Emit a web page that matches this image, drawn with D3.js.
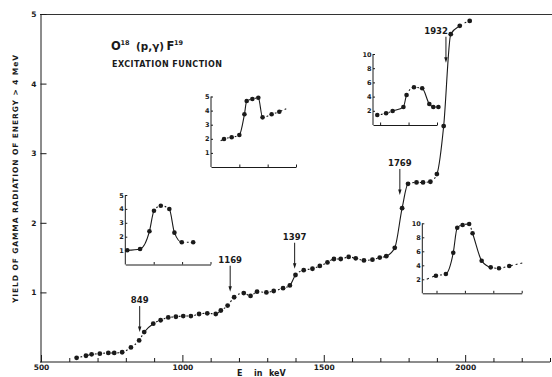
<!DOCTYPE html>
<html>
<head>
<meta charset="utf-8">
<script src="https://cdn.jsdelivr.net/npm/d3@7"></script>
<style>
  body { margin: 0; background: #fff; }
  svg { display: block; }
  text { font-family: "DejaVu Sans", sans-serif; fill: #1a1a1a; }
</style>
</head>
<body>
<script>
// main excitation curve
var energy = [626, 659, 679, 708, 738, 759, 787, 818, 847, 865, 897, 923, 950, 977, 1003, 1030, 1059,
  1088, 1118, 1136, 1160, 1183, 1217, 1241, 1264, 1297, 1323, 1356, 1380, 1400, 1429, 1460, 1486,
  1513, 1536, 1560, 1588, 1613, 1642, 1672, 1698, 1721, 1751, 1777, 1798, 1828, 1851, 1877, 1900,
  1924, 1949, 1981, 2016];
var yieldVals = [0.06, 0.09, 0.11, 0.12, 0.13, 0.13, 0.14, 0.21, 0.31, 0.43, 0.55, 0.60, 0.64, 0.65, 0.66, 0.66, 0.69,
  0.70, 0.69, 0.74, 0.81, 0.93, 0.99, 0.95, 1.01, 1.00, 1.02, 1.06, 1.10, 1.25, 1.32, 1.34, 1.38,
  1.43, 1.48, 1.48, 1.51, 1.49, 1.46, 1.47, 1.50, 1.52, 1.64, 2.21, 2.56, 2.58, 2.58, 2.59, 2.70,
  3.39, 4.71, 4.83, 4.90];

// resonance markers
var arrowE = [849, 1169, 1397, 1769, 1932];
var arrowTip = [0.43, 1.01, 1.34, 2.40, 4.30];

// axis ticks
var majorTicks = [500, 1000, 1500, 2000];
var minorTicks = [600, 700, 800, 900, 1100, 1200, 1300, 1400, 1600, 1700, 1800, 1900, 2100, 2200, 2300];
var yTicks = [1, 2, 3, 4, 5];

// insets (x in arbitrary units of one tick spacing)
var insetAx = [0.46, 0.73, 1.00, 1.18, 1.26, 1.46, 1.67, 1.82, 2.14, 2.41];
var insetAy = [1.99, 2.11, 2.27, 3.74, 4.68, 4.82, 4.91, 3.52, 3.74, 3.92];
var insetAlead = [0.29, 1.79];
var insetAtail = [2.69, 4.16];

var insetBx = [0.07, 0.52, 0.85, 1.01, 1.25, 1.55, 1.73, 1.99, 2.39];
var insetBy = [1.02, 1.12, 2.39, 3.87, 4.23, 3.99, 2.29, 1.60, 1.60];

var insetCx = [0.15, 0.46, 0.69, 1.07, 1.18, 1.44, 1.73, 1.98, 2.12, 2.30];
var insetCy = [1.41, 1.65, 1.97, 2.54, 4.23, 5.31, 5.17, 2.96, 2.54, 2.54];

var insetDx = [0.48, 0.83, 1.09, 1.23, 1.42, 1.65, 1.77, 2.09, 2.41, 2.70, 3.06];
var insetDy = [2.51, 2.76, 5.80, 9.37, 9.76, 9.90, 8.57, 4.66, 3.71, 3.57, 3.90];
var insetDlead = [0.10, 1.90];
var insetDtail = [3.56, 4.37];

var smallTicks = [1, 2, 3, 4, 5];
var bigTicks = [2, 4, 6, 8, 10];

var width = 552, height = 377;
var ink = "#1a1a1a";

var svg = d3.select("body").append("svg")
  .attr("width", width)
  .attr("height", height);

svg.append("rect").attr("width", width).attr("height", height).attr("fill", "#fff");

var x = d3.scaleLinear().domain([500, 2300]).range([41, 550]);
var y = d3.scaleLinear().domain([0, 5]).range([362, 14]);

// builds a dash pattern: short dashes between close points, solid on steep jumps
function dashPath(path, pxs, leadSegs) {
  var node = path.node();
  var total = node.getTotalLength();
  var lens = pxs.map(function (px) {
    var lo = 0, hi = total;
    for (var k = 0; k < 40; k++) {
      var mid = (lo + hi) / 2;
      if (node.getPointAtLength(mid).x < px) lo = mid; else hi = mid;
    }
    return (lo + hi) / 2;
  });
  var arr = [];
  for (var i = 0; i < lens.length - 1; i++) {
    var s = lens[i + 1] - lens[i];
    var isLead = leadSegs.indexOf(i) >= 0;
    if (s > 11.5 && !isLead) {
      arr.push(s, 0);
    } else {
      var n = Math.max(1, Math.round(s / (isLead ? 5 : 8)));
      var p = s / n;
      var d = Math.min(isLead ? 2.6 : 1.8, p * 0.4);
      for (var j = 0; j < n; j++) {
        arr.push(0, (p - d) / 2, d, (p - d) / 2);
      }
    }
  }
  path.attr("stroke-dasharray", arr.join(","));
}

function drawCurve(g, pts, sx, sy, leadSegs, dotR, dotMask) {
  var line = d3.line()
    .x(function (d) { return sx(d[0]); })
    .y(function (d) { return sy(d[1]); })
    .curve(d3.curveMonotoneX);
  var path = g.append("path")
    .datum(pts)
    .attr("d", line)
    .attr("fill", "none")
    .attr("stroke", ink)
    .attr("stroke-width", 1.1);
  dashPath(path, pts.map(function (d) { return sx(d[0]); }), leadSegs);
  g.selectAll("circle.dot")
    .data(pts.filter(function (d, i) { return dotMask[i]; }))
    .enter()
    .append("circle")
    .attr("class", "dot")
    .attr("cx", function (d) { return sx(d[0]); })
    .attr("cy", function (d) { return sy(d[1]); })
    .attr("r", dotR)
    .attr("fill", ink);
}

// frame
svg.append("line").attr("x1", 40).attr("x2", width).attr("y1", 14.5).attr("y2", 14.5)
  .attr("stroke", "#333").attr("stroke-width", 1);

// x axis
var xMajor = d3.axisBottom(x).tickValues(majorTicks).tickSizeInner(-7).tickSizeOuter(0).tickPadding(3)
  .tickFormat(d3.format("d"));
var gx = svg.append("g").attr("transform", "translate(0,362)").call(xMajor);
var xMinor = d3.axisBottom(x).tickValues(minorTicks).tickSizeInner(-4).tickSizeOuter(0).tickFormat("");
var gx2 = svg.append("g").attr("transform", "translate(0,362)").call(xMinor);
gx2.select(".domain").remove();
gx.select(".domain").attr("d", "M40,0H550");

// y axis
var yAxis = d3.axisLeft(y).tickValues(yTicks).tickSizeInner(-6).tickSizeOuter(0).tickPadding(4)
  .tickFormat(d3.format("d"));
var gy = svg.append("g").attr("transform", "translate(40.5,0)").call(yAxis);

[gx, gx2, gy].forEach(function (g) {
  g.selectAll("path, line").attr("stroke", ink).attr("stroke-width", 1);
  g.selectAll("text").attr("font-size", 7.5).attr("font-weight", "bold").attr("fill", ink)
    .style("font-family", "DejaVu Sans");
});

// axis titles
svg.append("text")
  .attr("transform", "translate(18,179) rotate(-90)")
  .attr("text-anchor", "middle")
  .attr("font-size", 7.5)
  .attr("font-weight", "bold")
  .attr("textLength", 248)
  .attr("lengthAdjust", "spacing")
  .text("YIELD OF GAMMA RADIATION OF ENERGY > 4 MeV");

var xt = svg.append("text").attr("y", 376).attr("font-size", 8).attr("font-weight", "bold");
xt.append("tspan").attr("x", 237).text("E");
xt.append("tspan").attr("x", 254).text("in");
xt.append("tspan").attr("x", 269).text("keV");

// title
svg.append("text").attr("x", 111).attr("y", 50).attr("font-size", 11.5).attr("font-weight", "bold").text("O");
svg.append("text").attr("x", 120.5).attr("y", 45).attr("font-size", 6.5).attr("font-weight", "bold").text("18");
svg.append("text").attr("x", 136).attr("y", 50).attr("font-size", 11).attr("font-weight", "bold")
  .attr("textLength", 28).attr("lengthAdjust", "spacingAndGlyphs").text("(p,γ)");
svg.append("text").attr("x", 166.5).attr("y", 50).attr("font-size", 11.5).attr("font-weight", "bold").text("F");
svg.append("text").attr("x", 174).attr("y", 45).attr("font-size", 6.5).attr("font-weight", "bold").text("19");
svg.append("text").attr("x", 112).attr("y", 67).attr("font-size", 8).attr("font-weight", "bold")
  .attr("textLength", 110).attr("lengthAdjust", "spacing").text("EXCITATION FUNCTION");

// main curve
var mainPts = energy.map(function (e, i) { return [e, yieldVals[i]]; });
drawCurve(svg.append("g"), mainPts, x, y, [], 2.4, mainPts.map(function () { return true; }));

// arrows
arrowE.forEach(function (e, i) {
  var ax = x(e), tip = y(arrowTip[i]), top = tip - 26;
  svg.append("line").attr("x1", ax).attr("x2", ax).attr("y1", top).attr("y2", tip - 3)
    .attr("stroke", ink).attr("stroke-width", 1);
  svg.append("path")
    .attr("d", "M" + (ax - 1.7) + "," + (tip - 5.5) + "L" + (ax + 1.7) + "," + (tip - 5.5) + "L" + ax + "," + tip + "Z")
    .attr("fill", ink);
  var last = i === arrowE.length - 1;
  svg.append("text")
    .attr("x", last ? ax + 2 : ax)
    .attr("y", top - 3)
    .attr("text-anchor", last ? "end" : "middle")
    .attr("font-size", 8.5)
    .attr("font-weight", "bold")
    .text(String(e));
});

// insets
function drawInset(cfg) {
  var g = svg.append("g");
  var sx = d3.scaleLinear().domain(cfg.xd).range(cfg.xr);
  var sy = d3.scaleLinear().domain(cfg.yd).range(cfg.yr);
  var ax = d3.axisBottom(sx).tickValues(cfg.xt).tickSizeInner(-2.5).tickSizeOuter(0).tickFormat("");
  var gax = g.append("g").attr("transform", "translate(0," + cfg.yr[0] + ")").call(ax);
  var ay = d3.axisLeft(sy).tickValues(cfg.yt).tickSizeInner(-2).tickSizeOuter(0).tickPadding(1.5)
    .tickFormat(d3.format("d"));
  var gay = g.append("g").attr("transform", "translate(" + cfg.xr[0] + ",0)").call(ay);
  gay.select(".domain").attr("d", "M0," + cfg.yr[0] + "V" + sy(cfg.yt[cfg.yt.length - 1]));
  [gax, gay].forEach(function (a) {
    a.selectAll("path, line").attr("stroke", ink).attr("stroke-width", 1);
    a.selectAll("text").attr("font-size", 6.5).attr("font-weight", "bold").attr("fill", ink)
      .style("font-family", "DejaVu Sans");
  });
  var pts = cfg.px.map(function (v, i) { return [v, cfg.py[i]]; });
  var mask = pts.map(function () { return true; });
  var leads = [];
  if (cfg.lead) { pts.unshift(cfg.lead); mask.unshift(false); leads.push(0); }
  if (cfg.tail) { pts.push(cfg.tail); mask.push(false); leads.push(pts.length - 2); }
  drawCurve(g, pts, sx, sy, leads, 2.3, mask);
}

drawInset({ xd: [0, 3], xr: [211, 296], yd: [0, 5], yr: [167, 96.5], xt: [1, 2, 3], yt: smallTicks,
  px: insetAx, py: insetAy, lead: insetAlead, tail: insetAtail });
drawInset({ xd: [0, 3], xr: [125.3, 210.5], yd: [0, 5], yr: [264.5, 195], xt: [1, 2, 3], yt: smallTicks,
  px: insetBx, py: insetBy });
drawInset({ xd: [0, 2.25], xr: [373, 437], yd: [0, 10], yr: [125, 54], xt: [0.25, 1.25, 2.25], yt: bigTicks,
  px: insetCx, py: insetCy });
drawInset({ xd: [0, 3.5], xr: [422.3, 521.7], yd: [0, 10], yr: [293.3, 223.3], xt: [0.5, 1.5, 2.5, 3.5], yt: bigTicks,
  px: insetDx, py: insetDy, lead: insetDlead, tail: insetDtail });
</script>
</body>
</html>
